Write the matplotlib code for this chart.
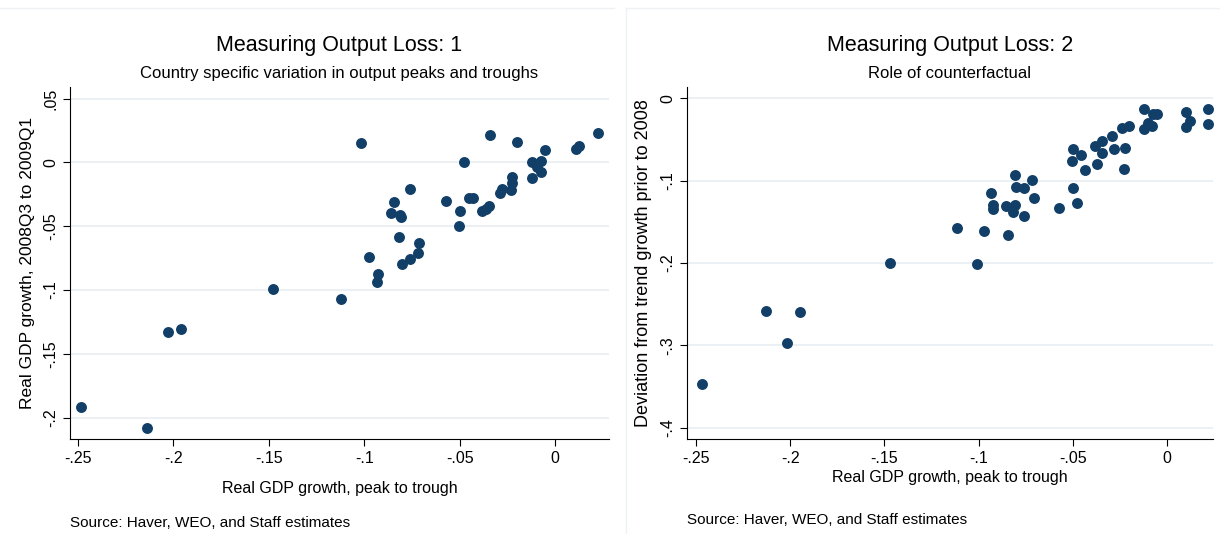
import matplotlib.pyplot as plt
import matplotlib.lines as mlines

# left panel: peak-to-trough growth vs growth 2008Q3-2009Q1
x_left = [-0.2483, -0.214, -0.203, -0.196, -0.1476, -0.112, -0.1015, -0.0976, -0.0927,
          -0.0935, -0.0858, -0.0845, -0.0812, -0.0808, -0.0817, -0.080, -0.0761, -0.0761,
          -0.0718, -0.0711, -0.0571, -0.0502, -0.0498, -0.0478, -0.0453, -0.0431, -0.0382,
          -0.0364, -0.0345, -0.0343, -0.0289, -0.0278, -0.0231, -0.0224, -0.0226, -0.020,
          -0.0119, -0.0119, -0.0095, -0.0073, -0.0071, -0.0054, 0.0108, 0.0125, 0.0224]
y_left = [-0.1914, -0.2084, -0.1327, -0.1304, -0.0995, -0.1068, 0.0152, -0.0743, -0.0872,
          -0.0937, -0.0393, -0.0312, -0.0411, -0.0427, -0.0586, -0.0798, -0.0204, -0.0757,
          -0.0712, -0.0628, -0.0298, -0.0497, -0.0382, 0.0003, -0.0275, -0.0275, -0.038,
          -0.0364, -0.0343, 0.0217, -0.0243, -0.0207, -0.0212, -0.016, -0.0113, 0.0162,
          -0.012, 0.0003, -0.0034, -0.0076, 0.001, 0.0099, 0.0107, 0.0126, 0.0228]

# right panel: peak-to-trough growth vs deviation from trend
x_right = [-0.2468, -0.2126, -0.1947, -0.2017, -0.1468, -0.1115, -0.1011, -0.0973, -0.0933,
           -0.0924, -0.0922, -0.0857, -0.0844, -0.0805, -0.080, -0.0809, -0.0815, -0.076,
           -0.076, -0.0718, -0.0708, -0.0571, -0.0498, -0.0504, -0.0498, -0.0477, -0.0456,
           -0.0433, -0.0382, -0.0372, -0.0347, -0.0344, -0.0294, -0.0279, -0.0227, -0.0223,
           -0.0237, -0.0202, -0.0124, -0.0122, -0.0099, -0.008, -0.0073, -0.0055, 0.0103,
           0.0103, 0.012, 0.0216, 0.0219]
y_right = [-0.3465, -0.2576, -0.2592, -0.2964, -0.2002, -0.1569, -0.2014, -0.1605, -0.1144,
           -0.1298, -0.1347, -0.1302, -0.1662, -0.093, -0.108, -0.129, -0.1379, -0.1088,
           -0.1431, -0.0987, -0.1205, -0.1326, -0.0611, -0.0756, -0.1084, -0.1266, -0.0683,
           -0.0865, -0.0574, -0.0797, -0.0667, -0.0518, -0.0457, -0.0619, -0.0853, -0.0598,
           -0.0364, -0.0336, -0.0125, -0.0372, -0.0295, -0.0332, -0.0194, -0.0186, -0.0166,
           -0.0348, -0.0271, -0.0133, -0.0307]

x_ticks = [-0.25, -0.2, -0.15, -0.1, -0.05, 0]
x_ticklabels = ['-.25', '-.2', '-.15', '-.1', '-.05', '0']
yl_ticks = [0.05, 0, -0.05, -0.1, -0.15, -0.2]
yl_ticklabels = ['.05', '0', '-.05', '-.1', '-.15', '-.2']
yr_ticks = [0, -0.1, -0.2, -0.3, -0.4]
yr_ticklabels = ['0', '-.1', '-.2', '-.3', '-.4']

navy = '#123f68'
grid_col = '#e6eef1'
plt.rcParams['font.family'] = ['Liberation Sans', 'DejaVu Sans']

fig = plt.figure(figsize=(12.2, 5.34), dpi=100)

# faint panel borders
fig.add_artist(mlines.Line2D([0, 0.503], [0.985, 0.985], color='#eef2f4', lw=1))
fig.add_artist(mlines.Line2D([0.513, 1], [0.985, 0.985], color='#eef2f4', lw=1))
fig.add_artist(mlines.Line2D([0.513, 0.513], [0, 0.985], color='#eef2f4', lw=1))


def panel(rect, xs, ys, yticks, yticklabels, ylim, title, subtitle, ylabel, xlab_y, src_y, ylab_size):
    ax = fig.add_axes(rect)
    ax.scatter(xs, ys, s=62, color=navy, zorder=3, linewidths=0)
    ax.set_ylim(*ylim)
    ax.set_xticks(x_ticks)
    ax.set_xticklabels(x_ticklabels, fontsize=11.5)
    ax.set_yticks(yticks)
    ax.set_yticklabels(yticklabels, fontsize=11.5, rotation=90, va='center')
    ax.grid(axis='y', color=grid_col, lw=1.2)
    ax.set_axisbelow(True)
    for s in ['top', 'right']:
        ax.spines[s].set_visible(False)
    ax.tick_params(direction='out', length=5, width=0.8)
    ax.set_ylabel(ylabel, fontsize=ylab_size, labelpad=6)
    cx = rect[0] + rect[2] / 2
    fig.text(cx, 0.915, title, ha='center', va='center', fontsize=15.5)
    fig.text(cx, 0.862, subtitle, ha='center', va='center', fontsize=12)
    fig.text(cx, xlab_y, 'Real GDP growth, peak to trough', ha='center', va='center', fontsize=11.5)
    fig.text(rect[0], src_y, 'Source: Haver, WEO, and Staff estimates', ha='left', va='center', fontsize=11)
    return ax


axl = panel([0.0574, 0.178, 0.4418, 0.6596], x_left, y_left, yl_ticks, yl_ticklabels,
            (-0.2167, 0.0594), 'Measuring Output Loss: 1',
            'Country specific variation in output peaks and troughs',
            'Real GDP growth, 2008Q3 to 2009Q1', 0.085, 0.02, 12.5)
axl.set_xlim(-0.2542, 0.0283)

axr = panel([0.5631, 0.178, 0.4311, 0.6596], x_right, y_right, yr_ticks, yr_ticklabels,
            (-0.4134, 0.014), 'Measuring Output Loss: 2', 'Role of counterfactual',
            'Deviation from trend growth prior to 2008', 0.105, 0.026, 13)
axr.set_xlim(-0.2548, 0.0244)

fig.savefig('out.png', dpi=100)
